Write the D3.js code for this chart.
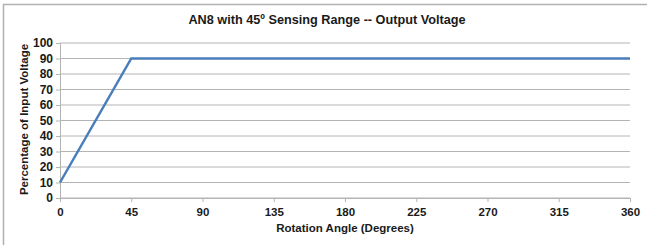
<!DOCTYPE html>
<html>
<head>
<meta charset="utf-8">
<script src="https://cdn.jsdelivr.net/npm/d3@7"></script>
<style>
  body { margin: 0; background: #fff; }
  svg { display: block; font-family: "Liberation Sans", Arial, sans-serif; }
</style>
</head>
<body>
<div id="chart"></div>
<script>
const angles = [0, 45, 360];
const voltages = [10, 90, 90];
const xTicks = [0, 45, 90, 135, 180, 225, 270, 315, 360];
const yTicks = [0, 10, 20, 30, 40, 50, 60, 70, 80, 90, 100];

const width = 647;
const height = 245;
const margin = { top: 43, right: 17, bottom: 47, left: 60 };

const svg = d3.select("#chart")
  .append("svg")
  .attr("width", width)
  .attr("height", height);

// frame
svg.append("path")
  .attr("d", `M3.5,${height + 2} V4.5 H${width + 2}`)
  .attr("fill", "none")
  .attr("stroke", "#b0b0b0")
  .attr("stroke-width", 1.5);

const x = d3.scaleLinear()
  .domain([0, 360])
  .range([margin.left, width - margin.right]);

const y = d3.scaleLinear()
  .domain([0, 100])
  .range([height - margin.bottom, margin.top]);

// grid
svg.append("g")
  .selectAll("line")
  .data(yTicks)
  .enter()
  .append("line")
  .attr("x1", x(0))
  .attr("x2", x(360))
  .attr("y1", d => y(d))
  .attr("y2", d => y(d))
  .attr("stroke", "#b4b4b4")
  .attr("stroke-width", 1);

// y axis
const yAxis = svg.append("g")
  .attr("transform", `translate(${x(0)},0)`)
  .call(d3.axisLeft(y).tickValues(yTicks).tickSize(4).tickPadding(3));
yAxis.select(".domain").attr("stroke", "#b4b4b4");
yAxis.selectAll(".tick line").attr("stroke", "#b4b4b4");
yAxis.selectAll("text")
  .attr("font-size", 12)
  .attr("font-weight", "bold")
  .attr("fill", "#1a1a1a");

// x axis
const xAxis = svg.append("g")
  .attr("transform", `translate(0,${y(0)})`)
  .call(d3.axisBottom(x).tickValues(xTicks).tickSize(4).tickPadding(6));
xAxis.select(".domain").attr("stroke", "#b4b4b4");
xAxis.selectAll(".tick line").attr("stroke", "#b4b4b4");
xAxis.selectAll("text")
  .attr("font-size", 11.5)
  .attr("font-weight", "bold")
  .attr("fill", "#1a1a1a");

// line
const line = d3.line()
  .x((d, i) => x(angles[i]))
  .y(d => y(d));

svg.append("path")
  .datum(voltages)
  .attr("d", line)
  .attr("fill", "none")
  .attr("stroke", "#4a7ebb")
  .attr("stroke-width", 2.5);

// title
svg.append("text")
  .attr("x", 327)
  .attr("y", 24)
  .attr("text-anchor", "middle")
  .attr("font-size", 12.7)
  .attr("font-weight", "bold")
  .attr("fill", "#1a1a1a")
  .text("AN8 with 45º Sensing Range -- Output Voltage");

// axis titles
svg.append("text")
  .attr("x", 345)
  .attr("y", 232)
  .attr("text-anchor", "middle")
  .attr("font-size", 11.5)
  .attr("font-weight", "bold")
  .attr("fill", "#1a1a1a")
  .text("Rotation Angle (Degrees)");

svg.append("text")
  .attr("transform", `translate(28,${(y(0) + y(100)) / 2 - 1}) rotate(-90)`)
  .attr("text-anchor", "middle")
  .attr("font-size", 11.5)
  .attr("font-weight", "bold")
  .attr("fill", "#1a1a1a")
  .text("Percentage of Input Voltage");
</script>
</body>
</html>
